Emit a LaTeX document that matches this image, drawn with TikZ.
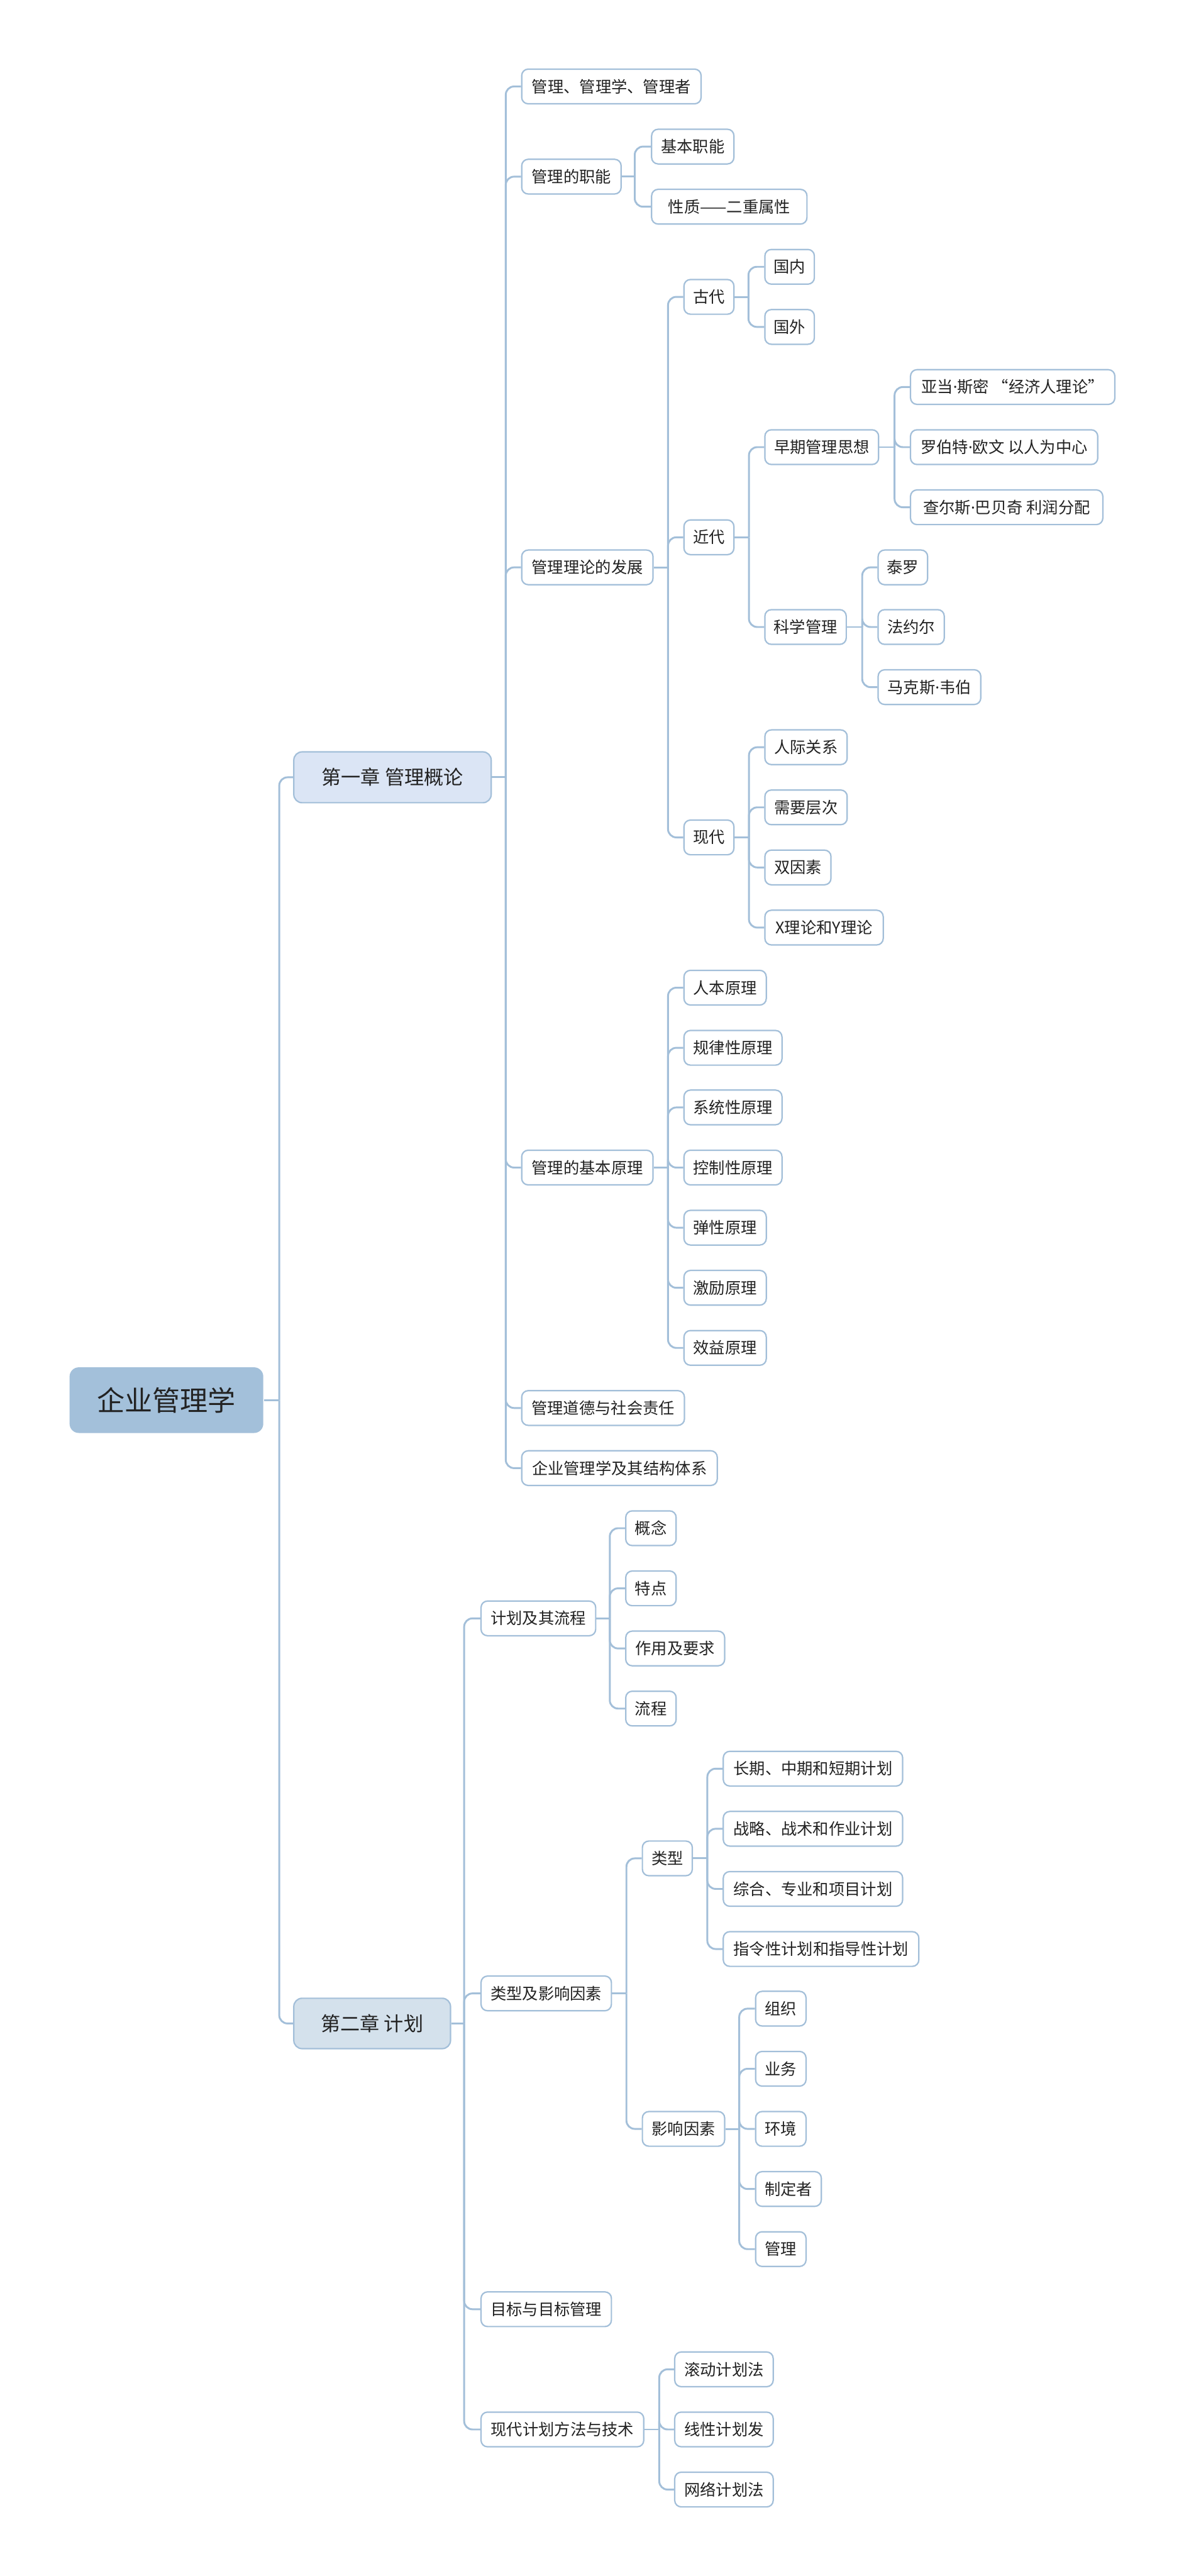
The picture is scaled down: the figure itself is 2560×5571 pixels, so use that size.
\documentclass[tikz,border=0pt]{standalone}
\usepackage{fontspec}
\setmainfont{Noto Sans CJK SC}
\newfontfamily\latinfont{Noto Sans}
\newcommand{\mdot}{{\latinfont ·}}
\definecolor{linec}{HTML}{A3BFD9}
\definecolor{rootfill}{HTML}{A3C0DA}
\definecolor{chaponefill}{HTML}{DBE5F5}
\definecolor{chaptwofill}{HTML}{D4E1EC}
\definecolor{txt}{HTML}{222222}
\tikzset{
  wd/.style={minimum width=#1*0.25pt},
  basebox/.style={draw=linec, line width=0.75pt, anchor=west, inner sep=0pt, align=center, text=txt},
  leaf/.style={basebox, fill=white, rounded corners=3.5pt, minimum height=18.75pt, font=\fontsize{8.6pt}{10pt}\selectfont},
  chapone/.style={basebox, fill=chaponefill, rounded corners=4.5pt, minimum height=27.5pt, font=\fontsize{10.6pt}{12pt}\selectfont},
  chaptwo/.style={basebox, fill=chaptwofill, rounded corners=4.5pt, minimum height=27.25pt, font=\fontsize{10.6pt}{12pt}\selectfont},
  rootbox/.style={basebox, draw=none, fill=rootfill, rounded corners=5pt, minimum height=35.5pt, font=\fontsize{15pt}{17pt}\selectfont},
  conn/.style={draw=linec, line width=1pt, rounded corners=4.5pt},
}
\begin{document}
\begin{tikzpicture}[x=0.25pt,y=-0.25pt]
\fill[white] (0,0) rectangle (2560,5571);
\useasboundingbox (0,0) rectangle (2560,5571);

% root and chapters
\node[rootbox, wd=419] (root) at (149,3028) {企业管理学};
\node[chapone, wd=427] (ch1) at (634,1681) {第一章 管理概论};
\node[chaptwo, wd=339] (ch2) at (634,4376) {第二章 计划};

% chapter 1 children
\node[leaf, wd=388] (a1) at (1127,187) {管理、管理学、管理者};
\node[leaf, wd=215] (a2) at (1127,382) {管理的职能};
\node[leaf, wd=284] (a3) at (1127,1227) {管理理论的发展};
\node[leaf, wd=284] (a4) at (1127,2525) {管理的基本原理};
\node[leaf, wd=352] (a5) at (1127,3045) {管理道德与社会责任};
\node[leaf, wd=423] (a6) at (1127,3175) {企业管理学及其结构体系};

\node[leaf, wd=178] (b1) at (1408,317) {基本职能};
\node[leaf, wd=336] (b2) at (1408,447) {性质——二重属性};

\node[leaf, wd=108] (c1) at (1478,642) {古代};
\node[leaf, wd=108] (c2) at (1478,1162) {近代};
\node[leaf, wd=108] (c3) at (1478,1811) {现代};

\node[leaf, wd=107] (d1) at (1653,577) {国内};
\node[leaf, wd=107] (d2) at (1653,707) {国外};

\node[leaf, wd=246] (e1) at (1653,967) {早期管理思想};
\node[leaf, wd=176] (e2) at (1653,1356) {科学管理};

\node[leaf, wd=442] (f1) at (1968,837) {亚当\mdot 斯密 “经济人理论”};
\node[leaf, wd=405] (f2) at (1968,967) {罗伯特\mdot 欧文 以人为中心};
\node[leaf, wd=416] (f3) at (1968,1097) {查尔斯\mdot 巴贝奇 利润分配};

\node[leaf, wd=107] (g1) at (1898,1227) {泰罗};
\node[leaf, wd=143] (g2) at (1898,1356) {法约尔};
\node[leaf, wd=222] (g3) at (1898,1486) {马克斯\mdot 韦伯};

\node[leaf, wd=178] (h1) at (1653,1616) {人际关系};
\node[leaf, wd=178] (h2) at (1653,1746) {需要层次};
\node[leaf, wd=143] (h3) at (1653,1876) {双因素};
\node[leaf, wd=256] (h4) at (1653,2006) {X理论和Y理论};

\node[leaf, wd=178] (i1) at (1478,2136) {人本原理};
\node[leaf, wd=212] (i2) at (1478,2266) {规律性原理};
\node[leaf, wd=212] (i3) at (1478,2395) {系统性原理};
\node[leaf, wd=212] (i4) at (1478,2525) {控制性原理};
\node[leaf, wd=178] (i5) at (1478,2655) {弹性原理};
\node[leaf, wd=178] (i6) at (1478,2785) {激励原理};
\node[leaf, wd=178] (i7) at (1478,2915) {效益原理};

% chapter 2 children
\node[leaf, wd=248] (j1) at (1039,3500) {计划及其流程};
\node[leaf, wd=282] (j2) at (1039,4311) {类型及影响因素};
\node[leaf, wd=282] (j3) at (1039,4994) {目标与目标管理};
\node[leaf, wd=352] (j4) at (1039,5254) {现代计划方法与技术};

\node[leaf, wd=109] (k1) at (1352,3305) {概念};
\node[leaf, wd=109] (k2) at (1352,3435) {特点};
\node[leaf, wd=214] (k3) at (1352,3565) {作用及要求};
\node[leaf, wd=109] (k4) at (1352,3695) {流程};

\node[leaf, wd=108] (l1) at (1388,4019) {类型};
\node[leaf, wd=178] (l2) at (1388,4604) {影响因素};

\node[leaf, wd=388] (m1) at (1563,3825) {长期、中期和短期计划};
\node[leaf, wd=388] (m2) at (1563,3955) {战略、战术和作业计划};
\node[leaf, wd=388] (m3) at (1563,4085) {综合、专业和项目计划};
\node[leaf, wd=423] (m4) at (1563,4215) {指令性计划和指导性计划};

\node[leaf, wd=109] (n1) at (1633,4344) {组织};
\node[leaf, wd=109] (n2) at (1633,4474) {业务};
\node[leaf, wd=109] (n3) at (1633,4604) {环境};
\node[leaf, wd=142] (n4) at (1633,4734) {制定者};
\node[leaf, wd=109] (n5) at (1633,4864) {管理};

\node[leaf, wd=213] (o1) at (1458,5124) {滚动计划法};
\node[leaf, wd=213] (o2) at (1458,5254) {线性计划发};
\node[leaf, wd=213] (o3) at (1458,5384) {网络计划法};

% spine junctions
\coordinate (sroot) at (604,3028);
\coordinate (sch1) at (1094,1681);
\coordinate (sa2) at (1373,382);
\coordinate (sa3) at (1445,1227);
\coordinate (sc1) at (1619,642);
\coordinate (sc2) at (1620,1162);
\coordinate (sc3) at (1620,1811);
\coordinate (se1) at (1935,967);
\coordinate (se2) at (1865,1356);
\coordinate (sa4) at (1445,2525);
\coordinate (sch2) at (1004,4376);
\coordinate (sj1) at (1319,3500);
\coordinate (sj2) at (1355,4311);
\coordinate (sl1) at (1530,4019);
\coordinate (sl2) at (1599,4604);
\coordinate (sj4) at (1426,5254);

% connectors
\draw[conn] (root.east) -- (sroot);
\foreach \c in {ch1,ch2} \draw[conn] (sroot) |- (\c.west);

\draw[conn] (ch1.east) -- (sch1);
\foreach \c in {a1,a2,a3,a4,a5,a6} \draw[conn] (sch1) |- (\c.west);

\draw[conn] (a2.east) -- (sa2);
\foreach \c in {b1,b2} \draw[conn] (sa2) |- (\c.west);

\draw[conn] (a3.east) -- (sa3);
\foreach \c in {c1,c2,c3} \draw[conn] (sa3) |- (\c.west);

\draw[conn] (c1.east) -- (sc1);
\foreach \c in {d1,d2} \draw[conn] (sc1) |- (\c.west);

\draw[conn] (c2.east) -- (sc2);
\foreach \c in {e1,e2} \draw[conn] (sc2) |- (\c.west);

\draw[conn] (e1.east) -- (se1);
\foreach \c in {f1,f2,f3} \draw[conn] (se1) |- (\c.west);

\draw[conn] (e2.east) -- (se2);
\foreach \c in {g1,g2,g3} \draw[conn] (se2) |- (\c.west);

\draw[conn] (c3.east) -- (sc3);
\foreach \c in {h1,h2,h3,h4} \draw[conn] (sc3) |- (\c.west);

\draw[conn] (a4.east) -- (sa4);
\foreach \c in {i1,i2,i3,i4,i5,i6,i7} \draw[conn] (sa4) |- (\c.west);

\draw[conn] (ch2.east) -- (sch2);
\foreach \c in {j1,j2,j3,j4} \draw[conn] (sch2) |- (\c.west);

\draw[conn] (j1.east) -- (sj1);
\foreach \c in {k1,k2,k3,k4} \draw[conn] (sj1) |- (\c.west);

\draw[conn] (j2.east) -- (sj2);
\foreach \c in {l1,l2} \draw[conn] (sj2) |- (\c.west);

\draw[conn] (l1.east) -- (sl1);
\foreach \c in {m1,m2,m3,m4} \draw[conn] (sl1) |- (\c.west);

\draw[conn] (l2.east) -- (sl2);
\foreach \c in {n1,n2,n3,n4,n5} \draw[conn] (sl2) |- (\c.west);

\draw[conn] (j4.east) -- (sj4);
\foreach \c in {o1,o2,o3} \draw[conn] (sj4) |- (\c.west);
\end{tikzpicture}
\end{document}
